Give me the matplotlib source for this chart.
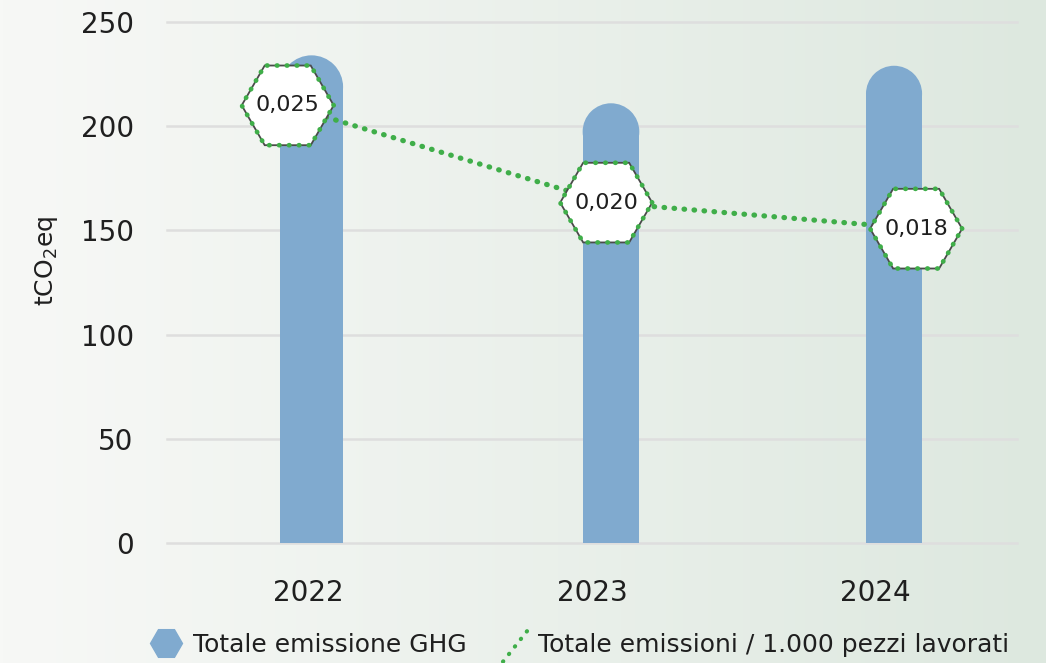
import numpy as np
import matplotlib
matplotlib.use("Agg")
import matplotlib.pyplot as plt
import matplotlib.transforms as mtransforms
from matplotlib.patches import RegularPolygon, Ellipse
from matplotlib.lines import Line2D
from matplotlib.legend_handler import HandlerBase

# data
years = ["2022", "2023", "2024"]
ghg_total = [234, 211, 229]                 # tCO2eq
per_1000_pieces = [0.0252, 0.0196, 0.0181]  # tCO2eq / 1.000 pezzi
per_1000_labels = ["0,025", "0,020", "0,018"]

# layout tweaks (the original is hand-placed, marks are a bit off-center)
bar_shift = [0.01, 0.067, 0.066]
bar_width = [0.223, 0.2, 0.198]
hex_shift = [-0.074, 0.05, 0.144]

BLUE = "#80aacf"
GREEN = "#3fae49"
TXT = "#1f1f1f"

plt.rcParams["font.family"] = ["DejaVu Sans"]

W, H = 1046, 663
fig = plt.figure(figsize=(W / 100, H / 100), dpi=100)

# background gradient
bg = fig.add_axes([0, 0, 1, 1], zorder=0)
bg.axis("off")
t = np.linspace(0, 1, 300)
left = np.array([247, 248, 246]) / 255
right = np.array([221, 232, 223]) / 255
img = left + (right - left) * (t[None, :, None] ** 1.1)
bg.imshow(img, aspect="auto", extent=[0, 1, 0, 1])

# main axes
ax_l, ax_r, ax_b, ax_t = 167, 1017, 543, 22
ax = fig.add_axes([ax_l / W, 1 - ax_b / H, (ax_r - ax_l) / W, (ax_b - ax_t) / H], zorder=1)
ax.patch.set_alpha(0)
ax.set_xlim(-0.5, 2.5)
ax.set_ylim(0, 250)

# rounded-top bars: straight part + half ellipse cap that looks round on screen
px_x = (ax_r - ax_l) / 3.0
px_y = (ax_b - ax_t) / 250.0
for i, v in enumerate(ghg_total):
    x = i + bar_shift[i]
    w = bar_width[i]
    r_y = (w * px_x / 2) / px_y
    ax.bar(x, v - r_y, width=w, color=BLUE, lw=0, zorder=2)
    ax.add_patch(Ellipse((x, v - r_y), w, 2 * r_y, facecolor=BLUE, lw=0, zorder=2))

ax.set_yticks(range(0, 251, 50))
ax.set_xticks(range(len(years)))
ax.set_xticklabels(years)
ax.grid(axis="y", color="#dedede", lw=1.8)
for gl in ax.get_ygridlines():
    gl.set_clip_on(False)
ax.set_axisbelow(True)
for s in ax.spines.values():
    s.set_visible(False)
ax.tick_params(axis="y", length=0, pad=24, labelsize=20, labelcolor=TXT)
ax.tick_params(axis="x", length=0, pad=26, labelsize=20, labelcolor=TXT)

fig.text(47 / W, 1 - 261 / H, "tCO$_2$eq", rotation=90, ha="center", va="center",
         fontsize=18, color=TXT)

# secondary series on hidden twin axis
ax2 = ax.twinx()
ax2.axis("off")
xs = [i + hex_shift[i] for i in range(len(years))]
ax2.plot(xs, per_1000_pieces, color=GREEN, lw=3.8, linestyle=(0, (0.1, 1.8)),
         dash_capstyle="round", zorder=2)
R = 0.46  # hexagon radius, inches
ang = np.deg2rad(np.arange(0, 361, 60))
for x, y, lab in zip(xs, per_1000_pieces, per_1000_labels):
    trans = fig.dpi_scale_trans + mtransforms.ScaledTranslation(x, y, ax2.transData)
    ax2.add_patch(RegularPolygon((0, 0), 6, radius=R, orientation=np.pi / 6,
                                 facecolor="white", edgecolor="#4a4a4a", lw=1.3,
                                 transform=trans, zorder=3))
    ax2.add_line(Line2D(R * np.cos(ang), R * np.sin(ang), color=GREEN, lw=3.4,
                        linestyle=(0, (0.1, 2.0)), dash_capstyle="round",
                        solid_joinstyle="round", transform=trans, zorder=4))
    ax2.text(x, y, lab, ha="center", va="center", fontsize=16, color=TXT, zorder=5)
ax2.set_xlim(-0.5, 2.5)
ax2.set_ylim(0, 0.03)


class DiagonalDots(HandlerBase):
    def create_artists(self, legend, orig_handle, xdescent, ydescent, width, height,
                       fontsize, trans):
        x0 = -xdescent + 0.3 * width
        x1 = -xdescent + width
        y0 = -ydescent - 0.55 * height
        y1 = -ydescent + 1.35 * height
        line = Line2D([x0, x1], [y0, y1], color=GREEN, lw=3.0,
                      linestyle=(0, (0.1, 2.2)), dash_capstyle="round")
        line.set_transform(trans)
        return [line]


h_bar = Line2D([], [], marker="H", markersize=23, color=BLUE, linestyle="none")
h_line = Line2D([], [], color=GREEN)
fig.legend([h_bar, h_line],
           ["Totale emissione GHG", "Totale emissioni / 1.000 pezzi lavorati"],
           handler_map={h_line: DiagonalDots()},
           loc="center", bbox_to_anchor=(578 / W, 1 - 645 / H), ncol=2, frameon=False,
           fontsize=18, handlelength=1.5, handletextpad=0.35, columnspacing=1.0,
           labelcolor=TXT)

fig.savefig("out.png", dpi=100)
